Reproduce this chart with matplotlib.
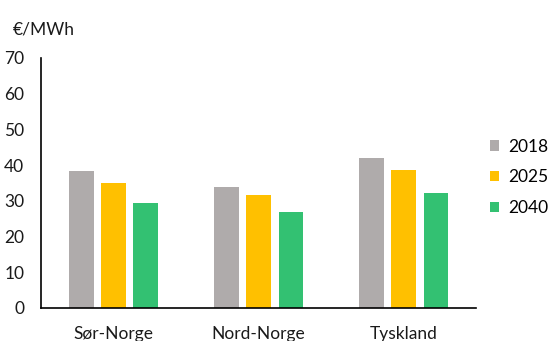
import matplotlib.pyplot as plt
import numpy as np

plt.rcParams['font.family'] = ['Lato', 'DejaVu Sans']

regions = ["Sør-Norge", "Nord-Norge", "Tyskland"]
years = ["2018", "2025", "2040"]
prices = {
    "2018": [38.4, 34.0, 41.9],
    "2025": [35.1, 31.6, 38.5],
    "2040": [29.5, 27.0, 32.1],
}
colors = ["#AFABAB", "#FFC000", "#33C172"]

fig = plt.figure(figsize=(5.55, 3.41), dpi=100)
ax = fig.add_axes([0.074, 0.097, 0.784, 0.733])

x = np.arange(len(regions))
width = 0.172
pitch = 0.223
for i, (yr, c) in enumerate(zip(years, colors)):
    ax.bar(x + (i - 1) * pitch, prices[yr], width, color=c, label=yr)

ax.set_xlim(-0.5, 2.5)
ax.set_ylim(0, 70)
ax.set_yticks(range(0, 71, 10))
ax.set_xticks(x)
ax.set_xticklabels(regions)
ax.tick_params(axis='both', length=0, labelsize=12.5, colors='#1a1a1a')
ax.tick_params(axis='y', pad=12)
ax.tick_params(axis='x', pad=13)
for s in ['top', 'right']:
    ax.spines[s].set_visible(False)
ax.spines['left'].set_linewidth(1.2)
ax.spines['bottom'].set_linewidth(1.2)

fig.text(0.023, 0.90, "€/MWh", fontsize=12.5, color='#1a1a1a')
ax.legend(loc='upper left', bbox_to_anchor=(0.995, 0.74), frameon=False,
          fontsize=12.5, handlelength=0.55, handleheight=0.55,
          handletextpad=0.5, labelspacing=0.85)

fig.savefig("out.png", dpi=100)
